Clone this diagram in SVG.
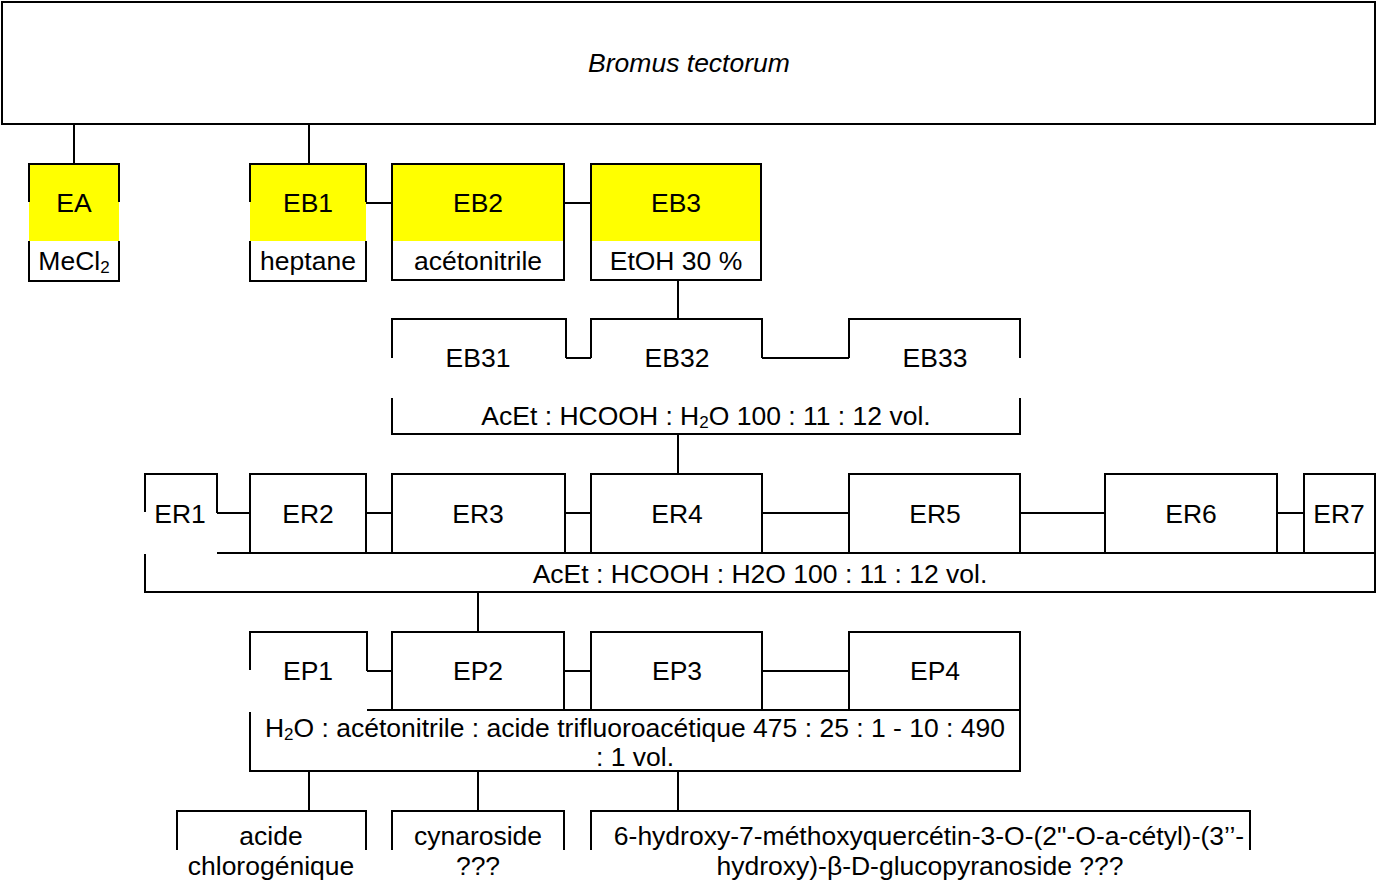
<svg xmlns="http://www.w3.org/2000/svg" width="1376" height="885" viewBox="0 0 1376 885">
<style>
  .ln{fill:none;stroke:#000;stroke-width:2}
  .yl{fill:#ffff00;stroke:none}
  text{font-family:"Liberation Sans",Arial,sans-serif;font-size:26.5px;fill:#000;text-anchor:middle}
  .it{font-style:italic}
</style>
<rect width="1376" height="885" fill="#fff"/>
<g id="connectors" class="ln">
  <path d="M74,124V164M309,124V164M366,203H392M564,203H591M678,281V319"/>
  <path d="M566,358H591M762,358H849M678,434V474"/>
  <path d="M217,513H250M366,513H392M565,513H591M762,513H849M1020,513H1105M1277,513H1304M478,592V632"/>
  <path d="M367,671H392M564,671H591M762,671H849M309,771V811M478,771V811M678,771V811"/>
</g>
<g id="bromus">
  <rect class="ln" x="2" y="2" width="1373" height="122"/>
  <text class="it" x="689" y="72">Bromus tectorum</text>
</g>
<g id="EA">
  <rect class="yl" x="29" y="164" width="90" height="77"/>
  <path class="ln" d="M29,202V164H119V202M29,241V281H119V241"/>
  <text x="74" y="212">EA</text>
  <text x="74" y="270">MeCl<tspan font-size="17" dy="3">2</tspan></text>
</g>
<g id="EB1">
  <rect class="yl" x="250" y="164" width="116" height="77"/>
  <path class="ln" d="M250,202V164H366V202M250,241V281H366V241"/>
  <text x="308" y="212">EB1</text>
  <text x="308" y="270">heptane</text>
</g>
<g id="EB2">
  <rect class="yl" x="392" y="164" width="172" height="77"/>
  <rect class="ln" x="392" y="164" width="172" height="116"/>
  <text x="478" y="212">EB2</text>
  <text x="478" y="270">acétonitrile</text>
</g>
<g id="EB3">
  <rect class="yl" x="591" y="164" width="170" height="77"/>
  <rect class="ln" x="591" y="164" width="170" height="116"/>
  <text x="676" y="212">EB3</text>
  <text x="676" y="270">EtOH 30 %</text>
</g>
<g id="EB31">
  <path class="ln" d="M392,358V319H566V358"/>
  <text x="478" y="367">EB31</text>
</g>
<g id="EB32">
  <path class="ln" d="M591,358V319H762V358"/>
  <text x="677" y="367">EB32</text>
</g>
<g id="EB33">
  <path class="ln" d="M849,358V319H1020V358"/>
  <text x="935" y="367">EB33</text>
</g>
<g id="solvEB">
  <path class="ln" d="M392,398V434H1020V398"/>
  <text x="706" y="425">AcEt : HCOOH : H<tspan font-size="17" dy="3">2</tspan><tspan dy="-3">O 100 : 11 : 12 vol.</tspan></text>
</g>
<g id="ER1">
  <path class="ln" d="M145,512V474H217V513"/>
  <text x="180" y="523">ER1</text>
</g>
<g id="ER2">
  <rect class="ln" x="250" y="474" width="116" height="79"/>
  <text x="308" y="523">ER2</text>
</g>
<g id="ER3">
  <rect class="ln" x="392" y="474" width="173" height="79"/>
  <text x="478" y="523">ER3</text>
</g>
<g id="ER4">
  <rect class="ln" x="591" y="474" width="171" height="79"/>
  <text x="677" y="523">ER4</text>
</g>
<g id="ER5">
  <rect class="ln" x="849" y="474" width="171" height="79"/>
  <text x="935" y="523">ER5</text>
</g>
<g id="ER6">
  <rect class="ln" x="1105" y="474" width="172" height="79"/>
  <text x="1191" y="523">ER6</text>
</g>
<g id="ER7">
  <rect class="ln" x="1304" y="474" width="71" height="79"/>
  <text x="1339" y="523">ER7</text>
</g>
<g id="solvER">
  <path class="ln" d="M217,553H1375M145,554V592H1375V553"/>
  <text x="760" y="583">AcEt : HCOOH : H2O 100 : 11 : 12 vol.</text>
</g>
<g id="EP1">
  <path class="ln" d="M250,670V632H367V671"/>
  <text x="308" y="680">EP1</text>
</g>
<g id="EP2">
  <rect class="ln" x="392" y="632" width="172" height="78"/>
  <text x="478" y="680">EP2</text>
</g>
<g id="EP3">
  <rect class="ln" x="591" y="632" width="171" height="78"/>
  <text x="677" y="680">EP3</text>
</g>
<g id="EP4">
  <rect class="ln" x="849" y="632" width="171" height="78"/>
  <text x="935" y="680">EP4</text>
</g>
<g id="solvEP">
  <path class="ln" d="M367,710H1020M250,712V771H1020V710"/>
  <text x="635" y="737">H<tspan font-size="17" dy="3">2</tspan><tspan dy="-3">O : acétonitrile : acide trifluoroacétique 475 : 25 : 1 - 10 : 490</tspan></text>
  <text x="635" y="766">: 1 vol.</text>
</g>
<g id="chlorogenique">
  <path class="ln" d="M177,850V811H366V850"/>
  <text x="271" y="845">acide</text>
  <text x="271" y="875">chlorogénique</text>
</g>
<g id="cynaroside">
  <path class="ln" d="M392,850V811H564V850"/>
  <text x="478" y="845">cynaroside</text>
  <text x="478" y="875">???</text>
</g>
<g id="glucopyranoside">
  <path class="ln" d="M591,850V811H1250V850"/>
  <text x="929" y="845">6-hydroxy-7-méthoxyquercétin-3-O-(2"-O-a-cétyl)-(3’’-</text>
  <text x="920" y="875">hydroxy)-β-D-glucopyranoside ???</text>
</g>
</svg>
